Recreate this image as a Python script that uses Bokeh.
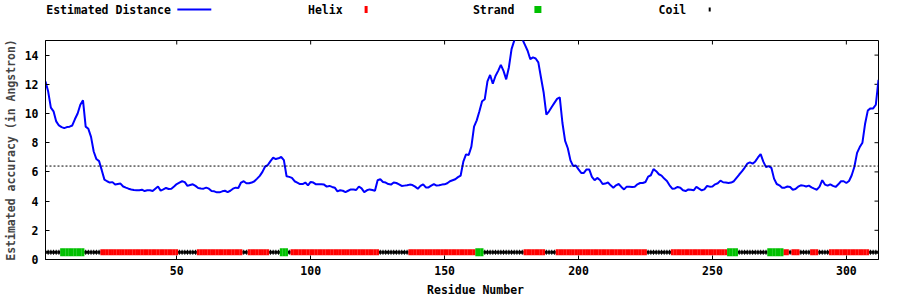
from bokeh.plotting import figure
from bokeh.models import Range1d, FixedTicker, Span, Title
from bokeh.layouts import column
from bokeh.embed import file_html
from bokeh.resources import INLINE
from bokeh.core.properties import value

# ---------------- data ----------------
residues = list(range(1, 313))
distance = [
    12.2, 11.5, 10.4, 10.15, 9.46, 9.18, 9.07, 9.0, 9.07, 9.1,
    9.18, 9.62, 10.0, 10.6, 10.9, 9.1, 8.95, 8.4, 7.4, 6.88,
    6.74, 6.12, 5.47, 5.36, 5.27, 5.3, 5.13, 5.17, 5.2, 5.0,
    4.92, 4.85, 4.8, 4.76, 4.74, 4.74, 4.78, 4.69, 4.74, 4.74,
    4.69, 4.85, 5.0, 4.72, 4.8, 4.9, 4.83, 4.85, 5.0, 5.17,
    5.27, 5.36, 5.3, 5.04, 5.1, 5.15, 5.04, 4.9, 4.87, 4.85,
    4.92, 4.85, 4.69, 4.67, 4.6, 4.6, 4.67, 4.71, 4.62, 4.71,
    4.85, 4.92, 4.9, 5.27, 5.36, 5.22, 5.22, 5.27, 5.36, 5.54,
    5.73, 6.0, 6.37, 6.47, 6.74, 6.97, 6.88, 6.93, 7.02, 6.81,
    5.7, 5.66, 5.59, 5.36, 5.27, 5.17, 5.17, 5.27, 5.08, 5.31,
    5.27, 5.15, 5.15, 5.15, 5.13, 4.99, 5.04, 4.97, 4.92, 4.67,
    4.74, 4.71, 4.62, 4.71, 4.8, 4.8, 4.76, 5.0, 4.87, 4.62,
    4.74, 4.8, 4.76, 4.71, 5.43, 5.5, 5.31, 5.27, 5.17, 5.13,
    5.27, 5.24, 5.15, 5.04, 5.06, 5.08, 5.13, 5.1, 4.99, 4.85,
    5.04, 5.15, 4.94, 4.94, 5.06, 5.17, 5.06, 5.08, 5.13, 5.15,
    5.22, 5.36, 5.43, 5.5, 5.64, 5.75, 6.7, 7.2, 7.16, 7.73,
    9.1, 9.53, 10.15, 10.84, 10.98, 12.2, 12.64, 12.04, 12.57, 12.92,
    13.33, 12.92, 12.34, 13.15, 14.41, 14.99, 15.4, 15.3, 15.1, 14.7,
    14.3, 13.72, 13.84, 13.77, 13.5, 12.45, 11.42, 9.92, 10.15, 10.45,
    10.73, 11.0, 11.1, 9.35, 8.12, 7.62, 6.79, 6.4, 6.44, 6.17,
    5.93, 5.93, 6.17, 6.17, 5.66, 5.43, 5.59, 5.45, 5.17, 5.2,
    5.27, 5.08, 4.92, 5.08, 5.17, 4.97, 4.8, 4.99, 4.99, 4.97,
    4.99, 5.15, 5.24, 5.24, 5.31, 5.68, 5.77, 6.19, 6.05, 5.84,
    5.75, 5.54, 5.38, 5.08, 4.85, 4.87, 4.97, 4.92, 4.74, 4.69,
    4.8, 4.78, 4.74, 4.97, 4.85, 4.74, 4.8, 5.04, 4.99, 5.0,
    5.15, 5.22, 5.4, 5.29, 5.27, 5.24, 5.27, 5.36, 5.59, 5.82,
    6.03, 6.28, 6.56, 6.65, 6.56, 6.72, 6.99, 7.22, 6.7, 6.33,
    6.4, 6.28, 5.54, 5.17, 5.08, 4.92, 4.92, 5.0, 4.97, 4.78,
    4.83, 4.99, 5.08, 5.06, 5.0, 5.06, 4.94, 4.85, 4.78, 4.99,
    5.43, 5.13, 5.06, 5.15, 5.04, 4.97, 5.15, 5.36, 5.36, 5.24,
    5.38, 5.77, 6.35, 7.3, 7.7, 8.0, 9.3, 10.2, 10.35, 10.35,
    10.6, 12.3,
]
threshold = 6.4
track_level = 0.5

# secondary structure segments: H = helix, E = strand, C = coil
ss_start = [1, 7, 16, 22, 51, 58, 75, 77, 85, 89, 92, 93, 126, 137, 162, 165,
            180, 188, 192, 226, 235, 256, 260, 271, 277, 279, 280, 283, 287,
            290, 294, 309]
ss_end = [6, 15, 21, 50, 57, 74, 76, 84, 88, 91, 92, 125, 136, 161, 164, 179,
          187, 191, 225, 234, 255, 259, 270, 276, 278, 279, 282, 286, 289,
          293, 308, 312]
ss_type = ["C", "E", "C", "H", "C", "H", "C", "H", "C", "E", "C", "H", "C",
           "H", "E", "C", "H", "C", "H", "C", "H", "E", "C", "E", "H", "C",
           "H", "C", "H", "C", "H", "C"]

legend_labels = ["Estimated Distance", "Helix", "Strand", "Coil"]
x_ticks = [50, 100, 150, 200, 250, 300]
y_ticks = [0, 2, 4, 6, 8, 10, 12, 14]
x_label = "Residue Number"
y_label = "Estimated accuracy (in Angstron)"

# ---------------- styles / layout ----------------
FONT = "DejaVu Sans Mono"
FS = "11.5px"
CHAR_W = 6.92
BLUE = "#0000ff"
RED = "#ff0000"
GREEN = "#00c000"
BLACK = "#000000"

W, H = 900, 300
LEG_H = 22
FL, FR, FT, FB = 44, 878, 40, 259          # frame edges in page pixels
XMIN, XMAX, YMIN, YMAX = 1, 312, 0, 15
TICK = 4
tick_dy = TICK * (YMAX - YMIN) / (FB - FT)
tick_dx = TICK * (XMAX - XMIN) / (FR - FL)

ss_of = {}
for s, e, t in zip(ss_start, ss_end, ss_type):
    for r in range(s, e + 1):
        ss_of[r] = t
helix_x = [r for r in residues if ss_of.get(r) == "H"]
strand_x = [r for r in residues if ss_of.get(r) == "E"]
coil_x = [r for r in residues if ss_of.get(r) == "C"]

# ---------------- legend strip (x in page pixels) ----------------
leg = figure(width=W, height=LEG_H, x_range=Range1d(FL, FR), y_range=Range1d(LEG_H, 0),
             output_backend="svg", toolbar_location=None, x_axis_type=None, y_axis_type=None,
             min_border_left=FL, min_border_right=W - FR, min_border_top=0, min_border_bottom=0,
             outline_line_color=None)
col_pitch = 172
text_right = [169.5 + col_pitch * i for i in range(4)]
sample_c = [t + 23.5 for t in text_right]
ly = 9.0
leg.text(x=text_right, y=[ly] * 4, text=legend_labels, text_align="right",
         text_baseline="middle", text_font=value(FONT), text_font_style="bold",
         text_font_size=value(FS), text_color=BLACK)
leg.line(x=[sample_c[0] - 17, sample_c[0] + 17], y=[ly, ly], line_color=BLUE, line_width=2)
leg.rect(x=[sample_c[1]], y=[ly], width=3, height=7, fill_color=RED, line_color=None)
leg.rect(x=[sample_c[2]], y=[ly], width=7, height=7, fill_color=GREEN, line_color=None)
leg.rect(x=[sample_c[3]], y=[ly], width=2, height=4, fill_color=BLACK, line_color=None)

# ---------------- main plot ----------------
p = figure(width=W, height=H - LEG_H, x_range=Range1d(XMIN, XMAX), y_range=Range1d(YMIN, YMAX),
           output_backend="svg", toolbar_location=None,
           min_border_left=FL, min_border_right=W - FR, min_border_top=FT - LEG_H,
           min_border_bottom=H - FB, background_fill_color="white")
p.grid.visible = False
p.outline_line_color = BLACK
p.outline_line_width = 1

for ax in (p.xaxis[0], p.yaxis[0]):
    ax.major_tick_in = TICK
    ax.major_tick_out = 0
    ax.minor_tick_line_color = None
    ax.axis_line_color = BLACK
    ax.major_tick_line_color = BLACK
    ax.major_label_text_font = FONT
    ax.major_label_text_font_style = "bold"
    ax.major_label_text_font_size = FS
    ax.major_label_text_color = BLACK
p.xaxis[0].ticker = FixedTicker(ticks=x_ticks)
p.yaxis[0].ticker = FixedTicker(ticks=y_ticks)
p.xaxis[0].major_label_standoff = 6
p.yaxis[0].major_label_standoff = 7
p.yaxis[0].axis_label = y_label
p.yaxis[0].axis_label_text_font = FONT
p.yaxis[0].axis_label_text_font_style = "bold"
p.yaxis[0].axis_label_text_font_size = FS
p.yaxis[0].axis_label_standoff = 4

# x-axis title, centred where the reference puts it
label_w = len(x_label) * CHAR_W
p.add_layout(Title(text=x_label, align="left", offset=474 - label_w / 2 - FL,
                   text_font=FONT, text_font_style="bold", text_font_size=FS,
                   text_color=BLACK, standoff=6), "below")

# mirrored ticks on top and right borders
p.segment(x0=x_ticks, y0=[YMAX] * len(x_ticks), x1=x_ticks, y1=[YMAX - tick_dy] * len(x_ticks),
          line_color=BLACK, line_width=1)
p.segment(x0=[XMAX] * len(y_ticks), y0=y_ticks, x1=[XMAX - tick_dx] * len(y_ticks), y1=y_ticks,
          line_color=BLACK, line_width=1)

p.add_layout(Span(location=threshold, dimension="width", line_color=BLACK,
                  line_dash="2 2", line_width=1))

p.line(residues, distance, line_color=BLUE, line_width=2)

p.rect(x=coil_x, y=[track_level] * len(coil_x), width=1.05, height=3, height_units="screen",
       fill_color=BLACK, line_color=None)
p.rect(x=coil_x, y=[track_level] * len(coil_x), width=1, height=5, width_units="screen",
       height_units="screen", fill_color=BLACK, line_color=None)
p.rect(x=helix_x, y=[track_level] * len(helix_x), width=1.05, height=6, height_units="screen",
       fill_color=RED, line_color=None)
p.rect(x=strand_x, y=[track_level] * len(strand_x), width=1.05, height=8, height_units="screen",
       fill_color=GREEN, line_color=None)

layout = column(leg, p)
open("out.html", "w").write(file_html(layout, INLINE))
